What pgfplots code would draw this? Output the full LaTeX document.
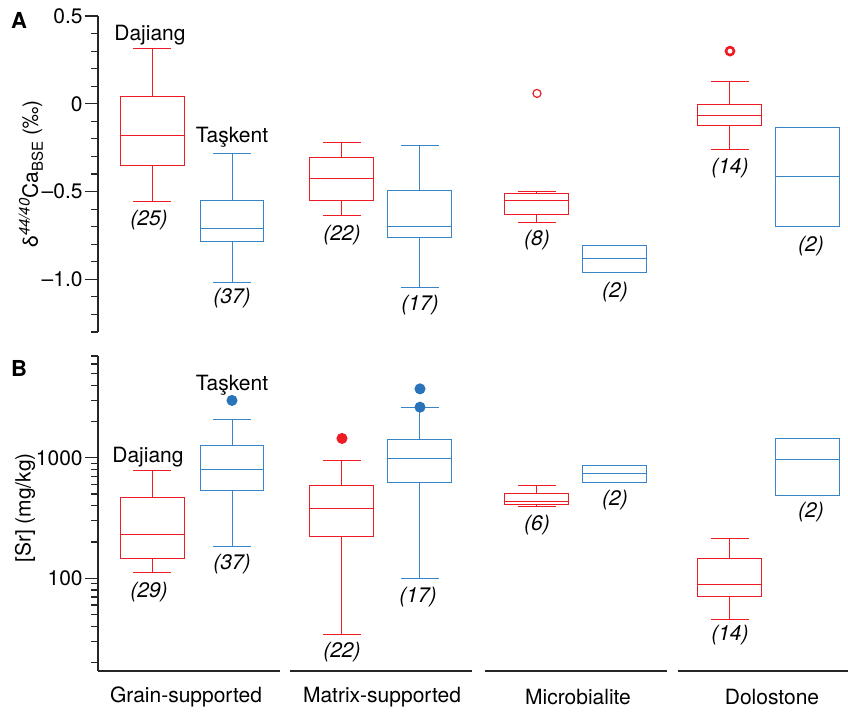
\documentclass[border=0pt]{standalone}
\usepackage{pgfplots}
\pgfplotsset{compat=1.18}
\usepgfplotslibrary{statistics}
\usepackage{fontspec}
\setmainfont{TeX Gyre Heros}
\definecolor{rdj}{RGB}{237,28,36}
\definecolor{btk}{RGB}{55,133,198}
\definecolor{btkdot}{RGB}{40,115,185}
\newcommand{\fs}{\fontsize{10.5bp}{12.5bp}\selectfont}
\tikzset{lab/.style={font=\fs\itshape}}
\pgfplotsset{
  dj/.style={draw=rdj, line width=0.5bp},
  tk/.style={draw=btk, line width=0.5bp},
  common/.style={
    scale only axis, width=375bp,
    xmin=98, xmax=848,
    axis x line=none, axis y line=left,
    y axis line style={-, line width=0.6bp, black!85},
    tick align=outside, major tick length=6.5bp, minor tick length=3.5bp,
    every tick/.style={line width=0.6bp, black!85},
    yticklabel style={font=\fs, inner sep=1bp},
    boxplot/draw direction=y,
    boxplot/box extend=64, boxplot/whisker extend=38,
    clip=false,
  },
}
\begin{document}
\begin{tikzpicture}[font=\fs]
\path[use as bounding box] (0,0) rectangle (424bp,-357.5bp);
\node[font=\fontsize{11bp}{13bp}\selectfont\bfseries] at (9.5bp,-10bp) {A};
\node[font=\fontsize{11bp}{13bp}\selectfont\bfseries] at (9.5bp,-184bp) {B};
\node[rotate=90] at (15.5bp,-87bp) {δ\raisebox{0.75ex}{\fontsize{7.5bp}{8bp}\selectfont\itshape 44/40}Ca\raisebox{-0.45ex}{\fontsize{7.5bp}{8bp}\selectfont BSE} (‰)};
\node[rotate=90] at (12.5bp,-254bp) {[Sr] (mg/kg)};
% ---------------- Panel A ----------------
\begin{axis}[common, at={(49bp,-8bp)}, anchor=north west, height=158bp,
  ymin=-1.3, ymax=0.5,
  ytick={-1,-0.5,0,0.5}, yticklabels={–1.0,–0.5,0,0.5},
  minor ytick={-1.3,-1.2,-1.1,-0.9,-0.8,-0.7,-0.6,-0.4,-0.3,-0.2,-0.1,0.1,0.2,0.3,0.4},
]
% Grain-supported
\addplot[dj, boxplot prepared={draw position=152, lower whisker=-0.557, lower quartile=-0.350, median=-0.178, upper quartile=0.042, upper whisker=0.317}] coordinates {};
\addplot[tk, boxplot prepared={draw position=232, lower whisker=-1.016, lower quartile=-0.786, median=-0.710, upper quartile=-0.549, upper whisker=-0.281}] coordinates {};
% Matrix-supported
\addplot[dj, boxplot prepared={draw position=342, lower whisker=-0.638, lower quartile=-0.549, median=-0.426, upper quartile=-0.306, upper whisker=-0.220}] coordinates {};
\addplot[tk, boxplot prepared={draw position=420, lower whisker=-1.048, lower quartile=-0.760, median=-0.699, upper quartile=-0.496, upper whisker=-0.237}] coordinates {};
% Microbialite
\addplot[dj, mark=o, mark size=2bp, mark options={line width=0.6bp, draw=rdj}, boxplot prepared={draw position=537, lower whisker=-0.678, lower quartile=-0.629, median=-0.549, upper quartile=-0.509, upper whisker=-0.501}] table[row sep=\\, y index=0] {data\\ 0.059\\};
\addplot[tk, boxplot prepared={draw position=615, lower whisker=-0.959, lower quartile=-0.959, median=-0.883, upper quartile=-0.809, upper whisker=-0.809}] coordinates {};
% Dolostone
\addplot[dj, mark=o, mark size=2bp, mark options={line width=1.3bp, draw=rdj}, boxplot prepared={draw position=730, lower whisker=-0.260, lower quartile=-0.122, median=-0.065, upper quartile=-0.004, upper whisker=0.127}] table[row sep=\\, y index=0] {data\\ 0.300\\};
\addplot[tk, boxplot prepared={draw position=808, lower whisker=-0.697, lower quartile=-0.697, median=-0.412, upper quartile=-0.133, upper whisker=-0.133}] coordinates {};
% labels
\node at (axis cs:150,0.393) {Dajiang};
\node at (axis cs:232,-0.188) {Taşkent};
\node[lab] at (axis cs:149,-0.661) {(25)};
\node[lab] at (axis cs:232,-1.105) {(37)};
\node[lab] at (axis cs:342,-0.746) {(22)};
\node[lab] at (axis cs:420,-1.145) {(17)};
\node[lab] at (axis cs:537,-0.775) {(8)};
\node[lab] at (axis cs:615,-1.071) {(2)};
\node[lab] at (axis cs:730,-0.365) {(14)};
\node[lab] at (axis cs:811,-0.809) {(2)};
\end{axis}
% ---------------- Panel B ----------------
\begin{axis}[common, at={(49bp,-178bp)}, anchor=north west, height=157.5bp,
  ymode=log, ymin=17, ymax=7000,
  ytick={100,1000}, yticklabels={100,1000},
  minor ytick={20,30,40,50,60,70,80,90,200,300,400,500,600,700,800,900,2000,3000,4000,5000,6000,7000},
]
% Grain-supported
\addplot[dj, boxplot prepared={draw position=152, lower whisker=112, lower quartile=147, median=229, upper quartile=465, upper whisker=780}] coordinates {};
\addplot[tk, mark=*, mark size=2.5bp, mark options={draw=btkdot, fill=btkdot}, boxplot prepared={draw position=232, lower whisker=183, lower quartile=532, median=795, upper quartile=1257, upper whisker=2065}] table[row sep=\\, y index=0] {data\\ 2995\\};
% Matrix-supported
\addplot[dj, mark=*, mark size=2.5bp, mark options={draw=rdj, fill=rdj}, boxplot prepared={draw position=342, lower whisker=34, lower quartile=221, median=383, upper quartile=590, upper whisker=951}] table[row sep=\\, y index=0] {data\\ 1448\\};
\addplot[tk, mark=*, mark size=2.5bp, mark options={draw=btkdot, fill=btkdot}, boxplot prepared={draw position=420, lower whisker=99, lower quartile=625, median=988, upper quartile=1421, upper whisker=2632}] table[row sep=\\, y index=0] {data\\ 2632\\ 3735\\};
% Microbialite
\addplot[dj, boxplot prepared={draw position=537, lower whisker=398, lower quartile=413, median=438, upper quartile=507, upper whisker=594}] coordinates {};
\addplot[tk, boxplot prepared={draw position=615, lower whisker=625, lower quartile=625, median=743, upper quartile=865, upper whisker=865}] coordinates {};
% Dolostone
\addplot[dj, boxplot prepared={draw position=730, lower whisker=45.7, lower quartile=70, median=88, upper quartile=147, upper whisker=215}] coordinates {};
\addplot[tk, boxplot prepared={draw position=808, lower whisker=484, lower quartile=484, median=976, upper quartile=1448, upper whisker=1448}] coordinates {};
% segmented x axis
\draw[line width=0.6bp, black!85] (axis cs:98,17) -- (axis cs:280,17);
\draw[line width=0.6bp, black!85] (axis cs:290,17) -- (axis cs:472,17);
\draw[line width=0.6bp, black!85] (axis cs:485,17) -- (axis cs:667,17);
\draw[line width=0.6bp, black!85] (axis cs:678,17) -- (axis cs:848,17);
% labels
\node at (axis cs:148,1013) {Dajiang};
\node at (axis cs:232,4009) {Taşkent};
\node[lab] at (axis cs:149,76.9) {(29)};
\node[lab] at (axis cs:232,131.5) {(37)};
\node[lab] at (axis cs:342,24.5) {(22)};
\node[lab] at (axis cs:418,70) {(17)};
\node[lab] at (axis cs:537,276.7) {(6)};
\node[lab] at (axis cs:615,445.8) {(2)};
\node[lab] at (axis cs:730,33.9) {(14)};
\node[lab] at (axis cs:811,354.6) {(2)};
\end{axis}
\node at (93bp,-348.5bp) {Grain-supported};
\node at (191bp,-348.5bp) {Matrix-supported};
\node at (289bp,-348.5bp) {Microbialite};
\node at (386bp,-348.5bp) {Dolostone};
\end{tikzpicture}
\end{document}
